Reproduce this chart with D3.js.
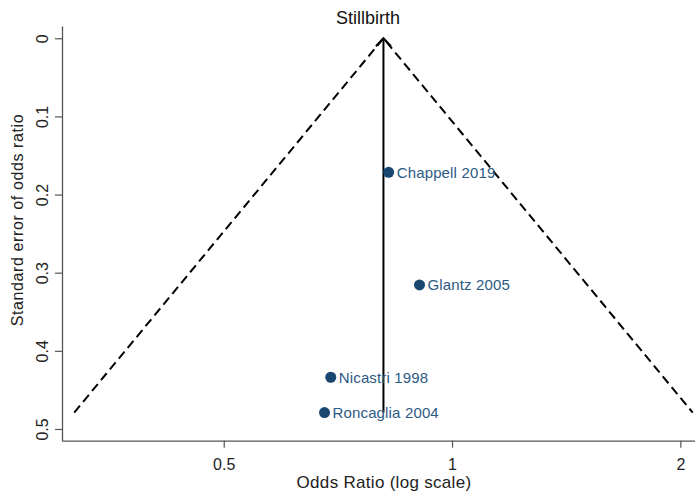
<!DOCTYPE html>
<html>
<head>
<meta charset="utf-8">
<script src="https://cdn.jsdelivr.net/npm/d3@7"></script>
<style>
  html, body { margin: 0; padding: 0; background: #fff; }
  svg { display: block; font-family: Arial, "Liberation Sans", sans-serif; }
</style>
</head>
<body>
<svg id="chart" width="695" height="498"></svg>
<script>
// Studies in the stillbirth funnel plot
const studies = ["Chappell 2019", "Glantz 2005", "Nicastri 1998", "Roncaglia 2004"];
const oddsRatios = [0.825, 0.906, 0.692, 0.679];
const standardErrors = [0.1715, 0.3157, 0.4338, 0.479];
// Pooled (fixed-effect) odds ratio
const pooledOR = [0.812];
const xTickValues = [0.5, 1, 2];
const yTickValues = [0, 0.1, 0.2, 0.3, 0.4, 0.5];

const svg = d3.select("#chart");
const plotLeft = 62, plotRight = 695, plotTop = 26, plotBottom = 440.7;

const x = d3.scaleLog().domain([0.306, 2.091]).range([plotLeft, plotRight]);
const y = d3.scaleLinear().domain([-0.0157, 0.515]).range([plotTop, plotBottom]);

const axisColor = "#555";
const markColor = "#1a476f";

// Funnel (pseudo 95% limits) drawn out to the largest standard error
const seMax = d3.max(standardErrors);
const pooled = pooledOR[0];
const funnel = [
  [Math.exp(Math.log(pooled) - 1.96 * seMax), seMax],
  [pooled, 0],
  [Math.exp(Math.log(pooled) + 1.96 * seMax), seMax]
];
const line = d3.line().x(d => x(d[0])).y(d => y(d[1]));
svg.append("path")
  .attr("d", line(funnel))
  .attr("fill", "none")
  .attr("stroke", "#000")
  .attr("stroke-width", 2)
  .attr("stroke-dasharray", "9,5");

// Pooled estimate line with an arrow at the apex
svg.append("line")
  .attr("x1", x(pooled)).attr("x2", x(pooled))
  .attr("y1", y(seMax)).attr("y2", y(0))
  .attr("stroke", "#000").attr("stroke-width", 2);
const ax = x(pooled), ay = y(0);
svg.append("path")
  .attr("d", `M${ax - 7.5},${ay + 8} L${ax},${ay} L${ax + 7.5},${ay + 8}`)
  .attr("fill", "none").attr("stroke", "#000").attr("stroke-width", 2);

// Axes
const yAxis = svg.append("g")
  .attr("transform", `translate(${plotLeft},0)`)
  .call(d3.axisLeft(y).tickValues(yTickValues).tickSize(7).tickSizeOuter(0)
    .tickFormat(d3.format("")));
yAxis.select(".domain").attr("stroke", axisColor).attr("stroke-width", 1.3);
yAxis.selectAll(".tick line").attr("stroke", axisColor).attr("stroke-width", 1.2);
yAxis.selectAll(".tick text")
  .attr("transform", "rotate(-90)")
  .attr("x", 0).attr("y", -14)
  .attr("dy", "0")
  .attr("text-anchor", "middle")
  .attr("font-size", 16)
  .attr("fill", "#222");

const xAxis = svg.append("g")
  .attr("transform", `translate(0,${plotBottom})`)
  .call(d3.axisBottom(x).tickValues(xTickValues).tickSize(7).tickSizeOuter(0)
    .tickFormat(d3.format("")));
xAxis.select(".domain").attr("stroke", axisColor).attr("stroke-width", 1.3);
xAxis.selectAll(".tick line").attr("stroke", axisColor).attr("stroke-width", 1.2);
xAxis.selectAll(".tick text")
  .attr("y", 29).attr("dy", "0")
  .attr("font-size", 16)
  .attr("fill", "#222");

// Axis titles and chart title
svg.append("text")
  .attr("x", 384).attr("y", 488)
  .attr("text-anchor", "middle")
  .attr("font-size", 17)
  .attr("letter-spacing", 0.3)
  .attr("fill", "#222")
  .text("Odds Ratio (log scale)");

svg.append("text")
  .attr("transform", "translate(23,220) rotate(-90)")
  .attr("text-anchor", "middle")
  .attr("font-size", 16)
  .attr("letter-spacing", 0.6)
  .attr("fill", "#222")
  .text("Standard error of odds ratio");

svg.append("text")
  .attr("x", 368).attr("y", 24)
  .attr("text-anchor", "middle")
  .attr("font-size", 18)
  .attr("fill", "#111")
  .text("Stillbirth");

// Study points and labels
const pts = svg.append("g");
studies.forEach((name, i) => {
  const px = x(oddsRatios[i]), py = y(standardErrors[i]);
  pts.append("circle")
    .attr("cx", px).attr("cy", py).attr("r", 5.5)
    .attr("fill", markColor);
  pts.append("text")
    .attr("x", px + 8).attr("y", py + 5.5)
    .attr("font-size", 15)
    .attr("letter-spacing", 0.15)
    .attr("fill", "#2c5a85")
    .text(name);
});
</script>
</body>
</html>
